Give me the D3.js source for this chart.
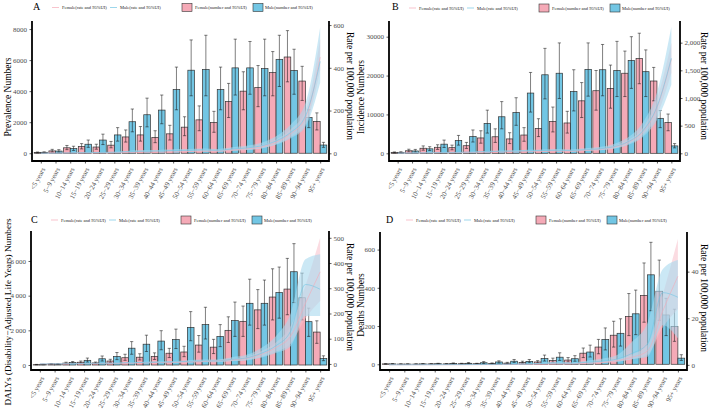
<!DOCTYPE html>
<html><head><meta charset="utf-8">
<script src="https://cdn.jsdelivr.net/npm/d3@7"></script>
<style>body{margin:0;background:#fff}svg{display:block}text{font-family:"Liberation Serif","Times New Roman",serif}</style>
</head><body><svg id="c" width="709" height="412"></svg>
<script>
const ageGroups = ["<5 years","5\u22129 years","10\u221214 years","15\u221219 years","20\u221224 years","25\u221229 years","30\u221234 years","35\u221239 years","40\u221244 years","45\u221249 years","50\u221254 years","55\u221259 years","60\u221264 years","65\u221269 years","70\u221274 years","75\u221279 years","80\u221284 years","85\u221289 years","90\u221294 years","95+ years"];

// Panel A: Prevalence
const prevF   = [40,150,350,430,400,520,1050,1180,1020,1250,1680,2150,1980,3330,4000,4230,5200,6200,4650,2050];
const prevFLo = [20,80,230,280,260,350,720,780,680,850,1130,1450,1350,2300,2800,3000,3700,4600,3400,1500];
const prevFHi = [80,250,500,620,580,760,1500,1720,1450,1800,2350,3050,2700,4500,5250,5650,6550,7900,5600,2600];
const prevM   = [60,140,300,580,850,1180,2030,2480,2780,4100,5350,5400,4100,5500,5500,5450,6050,5330,2300,530];
const prevMLo = [30,70,180,380,560,780,1380,1700,1900,2800,3700,3700,2800,3750,3800,3700,4300,3800,1650,380];
const prevMHi = [90,230,450,850,1230,1650,2850,3550,3750,5550,7300,7600,5550,7350,7200,7350,7600,6700,2800,700];
const prevRateF   = [0.5,1,1.5,2,2,3,4,5,5,6,8,10,10,15,21,30,52,92,165,450];
const prevRateFLo = [0.3,0.7,1,1.4,1.4,2,3,3.5,3.5,4,6,7,7,11,16,23,42,76,135,390];
const prevRateFHi = [0.8,1.4,2,2.8,2.8,4,5.5,7,7,8.5,11,14,14,20,27,39,64,112,200,535];
const prevRateM   = [0.6,1,2,3,4,5,8,10,11,13,14,16,14,20,25,35,58,98,175,430];
const prevRateMLo = [0.3,0.6,1.2,1.8,2.5,3,5,6,7,8,9,10,9,13,16,23,40,70,125,330];
const prevRateMHi = [1,1.6,3,4.5,6,7.5,12,15,16,19,20,23,20,28,35,49,80,135,235,590];

// Panel B: Incidence
const incF   = [200,650,1300,1550,1450,1950,3950,4250,3700,4700,6400,8200,7800,13500,16100,16700,20600,24400,18600,7900];
const incFLo = [100,350,800,1000,900,1250,2600,2800,2500,3100,4300,5500,5200,9200,11100,11600,14600,17900,13500,5800];
const incFHi = [350,1050,1900,2200,2100,2800,5800,6300,5300,6600,8900,11900,10800,18200,21300,22700,26300,30900,22100,10100];
const incM   = [250,600,1150,2350,3300,4300,7700,9400,10500,15500,20200,20600,15900,21600,21500,21300,23900,21000,9000,1900];
const incMLo = [120,300,700,1500,2100,2900,5200,6300,7200,10600,14000,14100,10900,14700,14800,14600,16700,14600,6600,1400];
const incMHi = [400,1000,1700,3400,4600,6000,11100,13300,14300,20800,27000,28400,21500,28400,28000,28800,30000,26600,11000,2500];
const incRateF   = [3,6,10,12,13,15,20,24,25,28,32,40,38,55,70,110,200,380,820,1700];
const incRateFLo = [2,4.5,8,9.5,10,12,16,19,20,22,25,32,30,44,56,88,165,320,680,1450];
const incRateFHi = [4,7.5,12,14.5,16,18,24,29,30,34,39,48,46,66,84,132,240,450,980,2000];
const incRateM   = [3,6,10,14,18,22,30,36,40,45,50,55,50,65,80,120,210,400,840,1720];
const incRateMLo = [2,4,7,10,12,15,21,25,28,31,35,38,35,45,56,84,150,290,600,1240];
const incRateMHi = [4.5,8.5,14,20,25,30,42,50,56,63,70,77,70,91,112,168,290,550,1100,2290];

// Panel C: DALYs
const dalyF   = [20,60,110,160,120,230,420,450,500,680,750,1150,1030,2000,2520,3180,3920,4380,3880,1900];
const dalyFLo = [10,40,70,100,80,150,270,290,320,430,480,740,660,1300,1650,2100,2600,2900,2600,1250];
const dalyFHi = [35,80,160,230,170,330,620,650,700,960,1080,1700,1480,2780,3400,4350,5550,6150,5300,2550];
const dalyM   = [25,55,140,270,360,490,970,1200,1380,1470,2170,2330,1650,2560,3560,3560,4180,5380,2500,380];
const dalyMLo = [12,35,90,170,230,310,620,780,880,950,1400,1500,1060,1650,2300,2300,2700,3600,1650,250];
const dalyMHi = [40,80,200,400,520,720,1350,1720,1980,2070,3080,3330,2330,3630,4950,4900,5650,7000,3280,530];
const dalyRateF   = [0.2,0.5,1,1.5,2,2.5,3,4,5,6,8,10,12,16,22,38,65,110,240,365];
const dalyRateFLo = [0.1,0.3,0.7,1.1,1.5,1.9,2.2,3,3.7,4.5,6,7.5,9,12,16,28,48,80,180,250];
const dalyRateFHi = [0.3,0.7,1.3,2,2.6,3.3,4,5.2,6.5,8,10.5,13,16,21,29,50,85,150,310,500];
const dalyRateM   = [0.3,0.6,1,2,2.5,3,5,6,7,8,10,12,12,18,24,42,72,130,315,296];
const dalyRateMLo = [0.2,0.4,0.6,1.2,1.5,1.8,3,3.6,4.2,4.8,6,7.2,7.2,11,14,25,43,70,190,190];
const dalyRateMHi = [0.5,0.9,1.5,3,3.8,4.5,7.5,9,10.5,12,15,18,18,27,36,63,110,200,415,435];

// Panel D: Deaths
const deathF   = [2,1,1,2,2,3,3,4,6,10,12,20,22,58,90,152,250,360,382,198];
const deathFLo = [1,0.5,0.5,1,1,1.5,2,2,3,6,7,11,12,35,55,90,150,220,230,120];
const deathFHi = [3,2,2,3,3,5,5,7,10,16,19,32,35,85,130,225,370,530,545,288];
const deathM   = [2,1,2,3,4,5,8,12,16,15,30,37,29,64,130,162,264,468,258,32];
const deathMLo = [1,0.5,1,1.5,2,3,4,6,9,8,17,20,16,38,75,95,155,280,150,20];
const deathMHi = [3,2,3,5,7,9,14,18,25,25,48,60,45,100,190,238,388,638,345,50];
const deathRateF   = [0.02,0.02,0.03,0.04,0.05,0.06,0.08,0.1,0.15,0.2,0.3,0.4,0.45,0.7,1,1.8,3.3,6,23,38];
const deathRateFLo = [0.01,0.01,0.02,0.03,0.03,0.04,0.05,0.07,0.1,0.14,0.2,0.3,0.3,0.5,0.7,1.3,2.4,4.3,16,24];
const deathRateFHi = [0.03,0.03,0.04,0.06,0.07,0.08,0.11,0.14,0.2,0.28,0.4,0.55,0.6,0.95,1.4,2.5,4.5,8.5,30,54];
const deathRateM   = [0.03,0.03,0.05,0.07,0.1,0.12,0.15,0.2,0.3,0.35,0.6,0.8,0.7,1.1,1.6,2.5,5,9,31,29];
const deathRateMLo = [0.02,0.02,0.03,0.04,0.06,0.07,0.09,0.12,0.18,0.2,0.35,0.5,0.4,0.6,0.9,1.3,2.5,3.5,17,11.4];
const deathRateMHi = [0.05,0.05,0.08,0.11,0.16,0.19,0.24,0.32,0.48,0.56,0.95,1.3,1.1,1.8,2.6,4.2,10,18,41,45];

const legendLabels = ["Female(rate and 95%UI)","Male(rate and 95%UI)","Female(number and 95%UI)","Male(number and 95%UI)"];
const FEMALE = "#f5aab7", MALE = "#72c6e4";
const FEMALE_RIB = "#f8bfcb", MALE_RIB = "#a9d9ee";

const panels = [
  {letter:"A", left:32, right:329, top:21, bottom:161, lDom:[-500,8520], rDom:[-36,619],
   lTicks:[0,2000,4000,6000,8000], rTicks:[0,200,400,600], fmt:d=>String(d),
   lTitle:"Prevalence Numbers", lTx:8, lTy:97, rTx:350, rTy:86, legX:32, legY:7.5, letX:33, letY:9.5,
   F:[prevF,prevFLo,prevFHi], M:[prevM,prevMLo,prevMHi],
   RF:[prevRateF,prevRateFLo,prevRateFHi], RM:[prevRateM,prevRateMLo,prevRateMHi]},
  {letter:"B", left:389, right:680, top:21, bottom:161, lDom:[-1981,34040], rDom:[-139,2392],
   lTicks:[0,10000,20000,30000], rTicks:[0,500,1000,1500,2000], fmt:d=>String(d),
   lTitle:"Incidence Numbers", lTx:361, lTy:97, rTx:704, rTy:86, legX:389, legY:8, letX:392, letY:9.5,
   F:[incF,incFLo,incFHi], M:[incM,incMLo,incMHi],
   RF:[incRateF,incRateFLo,incRateFHi], RM:[incRateM,incRateMLo,incRateMHi]},
  {letter:"C", left:31, right:329, top:231, bottom:370, lDom:[-288,7730], rDom:[-24,527],
   lTicks:[0,2000,4000,6000], rTicks:[0,100,200,300,400,500], fmt:d=>d===0?"0":(d/1000)+"\u2009000",
   lTitle:"DALYs (Disability\u2212Adjusted Life Years) Numbers", lTx:8, lTy:312, rTx:350, rTy:297, legX:31, legY:220, letX:31, letY:223,
   F:[dalyF,dalyFLo,dalyFHi], M:[dalyM,dalyMLo,dalyMHi],
   RF:[dalyRateF,dalyRateFLo,dalyRateFHi], RM:[dalyRateM,dalyRateMLo,dalyRateMHi]},
  {letter:"D", left:380, right:687, top:232, bottom:370, lDom:[-30,692], rDom:[-2.2,57],
   lTicks:[0,200,400,600], rTicks:[0,20,40], fmt:d=>String(d),
   lTitle:"Deaths Numbers", lTx:361, lTy:305, rTx:704, rTy:298, legX:386, legY:220, letX:386, letY:223,
   F:[deathF,deathFLo,deathFHi], M:[deathM,deathMLo,deathMHi],
   RF:[deathRateF,deathRateFLo,deathRateFHi], RM:[deathRateM,deathRateMLo,deathRateMHi]}
];

const svg = d3.select("#c");

function drawPanel(p){
  const g = svg.append("g");
  const x = d3.scalePoint().domain(ageGroups).range([p.left,p.right]).padding(0.6);
  const step = x.step(), bw = step*0.45;
  const yL = d3.scaleLinear().domain(p.lDom).range([p.bottom,p.top]);
  const yR = d3.scaleLinear().domain(p.rDom).range([p.bottom,p.top]);

  const series = [{d:p.F, fill:FEMALE, off:-1},{d:p.M, fill:MALE, off:0}];
  series.forEach(s=>{
    g.append("g").selectAll("rect").data(ageGroups).join("rect")
      .attr("x",(a)=>x(a)+s.off*bw)
      .attr("width",bw)
      .attr("y",(a,i)=>yL(s.d[0][i]))
      .attr("height",(a,i)=>Math.max(0,yL(0)-yL(s.d[0][i])))
      .attr("fill",s.fill).attr("stroke","#333").attr("stroke-width",0.7);
  });
  series.forEach(s=>{
    const eg = g.append("g").attr("stroke","#1a1a1a").attr("stroke-opacity",0.62).attr("stroke-width",0.9);
    ageGroups.forEach((a,i)=>{
      const cx = x(a)+s.off*bw+bw/2, cw = 1.6;
      const y1 = yL(s.d[1][i]), y2 = yL(s.d[2][i]);
      eg.append("line").attr("x1",cx).attr("x2",cx).attr("y1",y1).attr("y2",y2);
      eg.append("line").attr("x1",cx-cw).attr("x2",cx+cw).attr("y1",y1).attr("y2",y1);
      eg.append("line").attr("x1",cx-cw).attr("x2",cx+cw).attr("y1",y2).attr("y2",y2);
    });
  });
  const idx = d3.range(ageGroups.length);
  const rs = [{d:p.RF, fill:FEMALE_RIB, line:FEMALE, op:0.55},{d:p.RM, fill:MALE_RIB, line:MALE, op:0.6}];
  rs.forEach(r=>{
    const area = d3.area().x(i=>x(ageGroups[i])).y0(i=>yR(r.d[1][i])).y1(i=>yR(r.d[2][i])).curve(d3.curveMonotoneX);
    g.append("path").datum(idx).attr("d",area).attr("fill",r.fill).attr("fill-opacity",r.op);
  });
  rs.forEach(r=>{
    const line = d3.line().x(i=>x(ageGroups[i])).y(i=>yR(r.d[0][i])).curve(d3.curveMonotoneX);
    g.append("path").datum(idx).attr("d",line).attr("fill","none").attr("stroke",r.line).attr("stroke-width",0.6);
  });

  const styleAxis = (ax)=>{
    ax.select(".domain").remove();
    ax.selectAll(".tick line").attr("stroke","#333").attr("stroke-width",0.8);
    ax.selectAll(".tick text").attr("fill","#4d4d4d").style("font-size","7px").style("font-family","Liberation Serif, serif");
  };
  const axL = g.append("g").attr("transform",`translate(${p.left},0)`)
    .call(d3.axisLeft(yL).tickValues(p.lTicks).tickSize(2.5).tickPadding(2.5).tickFormat(p.fmt));
  styleAxis(axL);
  const axR = g.append("g").attr("transform",`translate(${p.right},0)`)
    .call(d3.axisRight(yR).tickValues(p.rTicks).tickSize(2.5).tickPadding(2));
  styleAxis(axR);
  const axB = g.append("g").attr("transform",`translate(0,${p.bottom})`)
    .call(d3.axisBottom(x).tickSize(2.5));
  styleAxis(axB);
  axB.selectAll(".tick text").attr("x",0).attr("y",0).attr("dy","0.35em")
    .attr("transform","translate(2,7) rotate(-62)").style("text-anchor","end");

  g.append("line").attr("x1",p.left).attr("x2",p.left).attr("y1",p.top).attr("y2",p.bottom+0.9).attr("stroke","#000").attr("stroke-width",1.8);
  g.append("line").attr("x1",p.right).attr("x2",p.right).attr("y1",p.top).attr("y2",p.bottom+0.9).attr("stroke","#000").attr("stroke-width",1.8);
  g.append("line").attr("x1",p.left).attr("x2",p.right).attr("y1",p.bottom).attr("y2",p.bottom).attr("stroke","#000").attr("stroke-width",1.8);

  g.append("text").attr("transform",`translate(${p.lTx},${p.lTy}) rotate(-90)`).attr("text-anchor","middle")
    .attr("dominant-baseline","central").style("font-size", p.letter==="C" ? "9.2px" : "9.5px").attr("fill","#000").text(p.lTitle);
  g.append("text").attr("transform",`translate(${p.rTx},${p.rTy}) rotate(90)`).attr("text-anchor","middle")
    .attr("dominant-baseline","central").style("font-size","9.5px").attr("fill","#000").text("Rate per 100,000 population");
  g.append("text").attr("x",p.letX).attr("y",p.letY).style("font-size","10px").attr("fill","#000").text(p.letter);

  const L = g.append("g").attr("transform",`translate(${p.legX},${p.legY})`);
  const offs = [20,30,78,88,150,163,221,233];
  [[FEMALE,0],[MALE,1]].forEach(([c,k])=>{
    L.append("line").attr("x1",offs[k*2]).attr("x2",offs[k*2]+7).attr("y1",0).attr("y2",0).attr("stroke",c).attr("stroke-width",0.7);
    L.append("text").attr("x",offs[k*2+1]).attr("y",0).attr("dominant-baseline","central").style("font-size","4.5px").attr("fill","#222").text(legendLabels[k]);
  });
  [[FEMALE,2],[MALE,3]].forEach(([c,k])=>{
    L.append("rect").attr("x",offs[k*2]).attr("y",-4).attr("width",10).attr("height",8).attr("fill",c).attr("stroke","#333").attr("stroke-width",0.6);
    L.append("text").attr("x",offs[k*2+1]).attr("y",0).attr("dominant-baseline","central").style("font-size","4.5px").attr("fill","#222").text(legendLabels[k]);
  });
}
panels.forEach(drawPanel);
</script></body></html>
